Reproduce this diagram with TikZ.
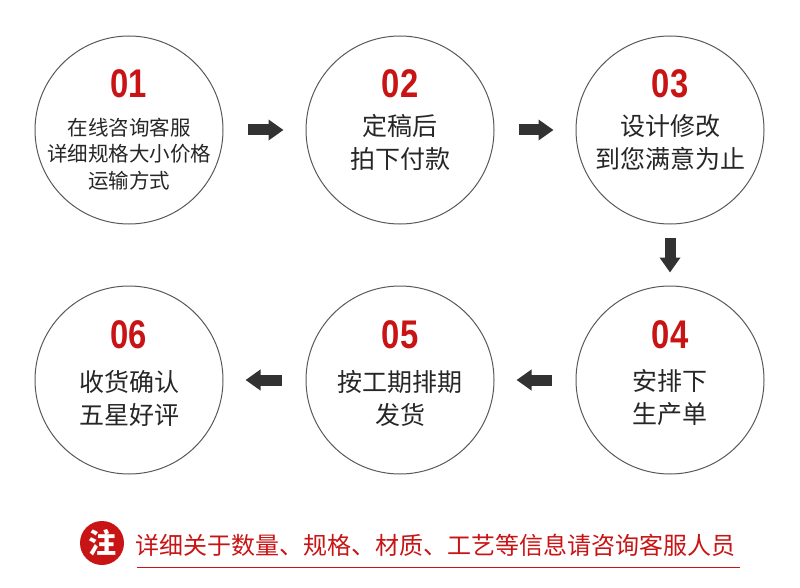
\documentclass[tikz,border=0pt]{standalone}
\usepackage{fontspec}
\setmainfont{Liberation Sans}
\newfontfamily\cjk{Noto Sans CJK SC}
\usetikzlibrary{arrows.meta}
\definecolor{myred}{RGB}{200,20,20}
\definecolor{arr}{RGB}{50,50,50}
\begin{document}
\begin{tikzpicture}[x=1pt,y=-1pt,
  stepcircle/.style={circle,draw=black!65,line width=1pt,minimum size=188pt,inner sep=0pt},
  num/.style={text=myred,font=\bfseries\fontsize{40}{40}\selectfont,xscale=0.82},
  txt/.style={font=\cjk\fontsize{25}{33}\selectfont,align=center,text=black!85},
  stxt/.style={font=\cjk\fontsize{20.5}{26.5}\selectfont,align=center,text=black!85},
  flow/.style={draw=arr,line width=11pt,-{Triangle[length=15pt,width=20pt]},shorten <=24pt,shorten >=22pt}]
\useasboundingbox (0,0) rectangle (800,588);
\node[stepcircle] (c1) at (129,130) {};
\node[stepcircle] (c2) at (400,130) {};
\node[stepcircle] (c3) at (670,130) {};
\node[stepcircle] (c4) at (670,380) {};
\node[stepcircle] (c5) at (400,380) {};
\node[stepcircle] (c6) at (129,380) {};
\node[num] (n1) at (129,84) {01};
\node[num] (n2) at (400,84) {02};
\node[num] (n3) at (670,84) {03};
\node[num] (n4) at (670,335) {04};
\node[num] (n5) at (400,335) {05};
\node[num] (n6) at (129,335) {06};
\node[stxt] (t1) at (129,154) {在线咨询客服\\详细规格大小价格\\运输方式};
\node[txt] (t2) at (400,142) {定稿后\\拍下付款};
\node[txt] (t3) at (670,142) {设计修改\\到您满意为止};
\node[txt] (t4) at (670,398) {安排下\\生产单};
\node[txt] (t5) at (400,398) {按工期排期\\发货};
\node[txt] (t6) at (129,398) {收货确认\\五星好评};
\draw[flow] (c1) -- (c2);
\draw[flow] (c2) -- (c3);
\draw[flow,shorten <=13pt,shorten >=13pt] (c3) -- (c4);
\draw[flow] (c4) -- (c5);
\draw[flow] (c5) -- (c6);
\node[circle,fill=myred,minimum size=44pt,inner sep=0pt,text=white,font=\cjk\bfseries\fontsize{28}{28}\selectfont] (zhu) at (102,543) {注};
\node[anchor=west,text=myred,font=\cjk\fontsize{24}{24}\selectfont] (note) at (132,545) {详细关于数量、规格、材质、工艺等信息请咨询客服人员};
\coordinate (l1) at (137,567);
\coordinate (l2) at (740,567);
\draw[myred,line width=0.8pt] (l1) -- (l2);
\end{tikzpicture}
\end{document}
